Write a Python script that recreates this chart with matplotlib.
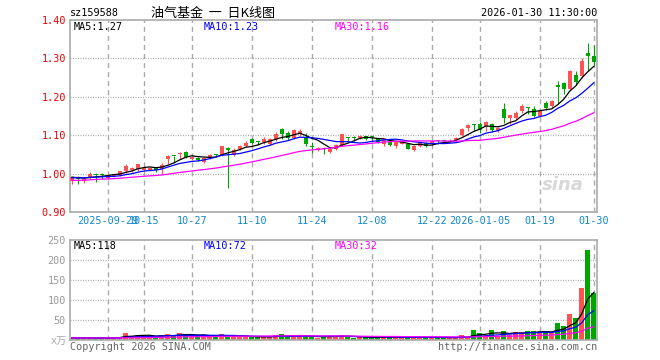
import numpy as np
import pandas as pd
import matplotlib
matplotlib.use("Agg")
import matplotlib.pyplot as plt
from matplotlib.transforms import blended_transform_factory


# trading days shown (Sina daily K chart, 159588)
holidays = ["2025-10-01", "2025-10-02", "2025-10-03", "2025-10-06", "2025-10-07",
            "2025-10-08", "2026-01-01", "2026-01-02"]
days = pd.bdate_range("2025-09-19", "2026-01-30")
days = days[~days.isin(pd.to_datetime(holidays))]

opens = [0.981, 0.990, 0.981, 0.990, 0.998, 0.998, 0.988, 0.993, 0.997, 1.006,
         1.009, 1.013, 1.009, 1.010, 1.015, 1.012, 1.038, 1.047, 1.052, 1.056,
         1.038, 1.041, 1.030, 1.041, 1.049, 1.049, 1.066, 1.049, 1.064, 1.073,
         1.090, 1.082, 1.081, 1.078, 1.089, 1.117, 1.106, 1.093, 1.102, 1.093,
         1.069, 1.061, 1.064, 1.055, 1.064, 1.075, 1.093, 1.093, 1.094, 1.097,
         1.096, 1.090, 1.077, 1.081, 1.071, 1.078, 1.078, 1.062, 1.071, 1.080,
         1.077, 1.086, 1.086, 1.083, 1.088, 1.100, 1.120, 1.128, 1.129, 1.124,
         1.129, 1.110, 1.169, 1.145, 1.145, 1.162, 1.172, 1.169, 1.150, 1.184,
         1.175, 1.232, 1.236, 1.220, 1.256, 1.253, 1.314, 1.306]
highs = [0.994, 0.994, 0.990, 1.003, 1.001, 1.002, 0.999, 1.000, 1.008, 1.026,
         1.018, 1.026, 1.020, 1.018, 1.017, 1.027, 1.049, 1.047, 1.056, 1.058,
         1.046, 1.043, 1.043, 1.052, 1.050, 1.073, 1.068, 1.066, 1.075, 1.084,
         1.092, 1.085, 1.095, 1.093, 1.108, 1.118, 1.111, 1.115, 1.115, 1.106,
         1.083, 1.069, 1.070, 1.066, 1.077, 1.102, 1.095, 1.097, 1.100, 1.099,
         1.098, 1.092, 1.090, 1.090, 1.084, 1.086, 1.080, 1.073, 1.082, 1.083,
         1.086, 1.087, 1.088, 1.091, 1.096, 1.118, 1.130, 1.129, 1.135, 1.137,
         1.132, 1.121, 1.184, 1.153, 1.162, 1.180, 1.174, 1.175, 1.165, 1.190,
         1.191, 1.241, 1.239, 1.270, 1.268, 1.300, 1.341, 1.336]
lows = [0.974, 0.974, 0.975, 0.987, 0.978, 0.985, 0.985, 0.990, 0.995, 1.002,
        1.005, 1.007, 1.006, 1.006, 1.003, 1.000, 1.024, 1.027, 1.038, 1.040,
        1.036, 1.032, 1.028, 1.038, 1.043, 1.047, 0.963, 1.045, 1.062, 1.070,
        1.077, 1.075, 1.077, 1.075, 1.086, 1.089, 1.087, 1.090, 1.099, 1.073,
        1.053, 1.059, 1.051, 1.053, 1.062, 1.073, 1.083, 1.084, 1.090, 1.088,
        1.083, 1.079, 1.073, 1.072, 1.067, 1.076, 1.063, 1.060, 1.069, 1.069,
        1.075, 1.077, 1.080, 1.081, 1.084, 1.098, 1.110, 1.111, 1.105, 1.110,
        1.108, 1.108, 1.132, 1.130, 1.140, 1.158, 1.155, 1.148, 1.147, 1.165,
        1.172, 1.180, 1.206, 1.217, 1.232, 1.250, 1.268, 1.280]
closes = [0.990, 0.985, 0.986, 0.999, 0.997, 0.997, 0.996, 0.998, 1.006, 1.019,
          1.015, 1.024, 1.015, 1.014, 1.009, 1.023, 1.047, 1.046, 1.054, 1.043,
          1.043, 1.035, 1.041, 1.049, 1.048, 1.071, 1.061, 1.061, 1.071, 1.080,
          1.080, 1.081, 1.091, 1.091, 1.104, 1.104, 1.093, 1.113, 1.111, 1.076,
          1.068, 1.067, 1.063, 1.064, 1.075, 1.102, 1.092, 1.092, 1.097, 1.091,
          1.095, 1.082, 1.088, 1.075, 1.082, 1.084, 1.065, 1.071, 1.080, 1.071,
          1.084, 1.085, 1.085, 1.085, 1.094, 1.117, 1.126, 1.127, 1.114, 1.135,
          1.114, 1.119, 1.145, 1.152, 1.158, 1.177, 1.171, 1.150, 1.163, 1.170,
          1.189, 1.225, 1.221, 1.268, 1.238, 1.292, 1.306, 1.291]
# volume in 万 (10k units)
volumes = [5, 8, 4, 4, 4, 7, 4, 7, 8, 18, 10, 12, 10, 9, 8, 12, 15, 9, 18, 14,
           12, 9, 11, 9, 8, 15, 10, 9, 8, 8, 8, 7, 8, 8, 12, 15, 10, 9, 10, 9,
           9, 6, 8, 10, 11, 12, 7, 5, 7, 7, 7, 7, 7, 7, 7, 7, 7, 7, 6, 6,
           6, 6, 6, 6, 6, 12, 7, 24, 17, 12, 25, 11, 22, 12, 19, 19, 22, 22, 21, 20,
           17, 42, 35, 65, 56, 129, 225, 118]

# closes / volumes before the window, only used to seed the moving averages
prior_closes = [0.972, 0.975, 0.970, 0.968, 0.973, 0.977, 0.980, 0.976, 0.974, 0.979,
                0.983, 0.981, 0.978, 0.982, 0.985, 0.983, 0.980, 0.984, 0.987, 0.985,
                0.982, 0.986, 0.989, 0.991, 0.988, 0.990, 0.993, 0.991, 0.989]
prior_volumes = [5, 6, 4, 5, 7, 5, 4, 6, 5, 5, 6, 4, 5, 5, 6, 5, 4, 5, 6, 5,
                 5, 4, 6, 5, 5, 6, 5, 4, 5]

date_ticks = {"2025-09-29": "2025-09-29", "2025-10-15": "10-15", "2025-10-27": "10-27",
              "2025-11-10": "11-10", "2025-11-24": "11-24", "2025-12-08": "12-08",
              "2025-12-22": "12-22", "2026-01-05": "2026-01-05", "2026-01-19": "01-19",
              "2026-01-30": "01-30"}

price_ticks = [0.90, 1.00, 1.10, 1.20, 1.30, 1.40]
vol_ticks = [50, 100, 150, 200, 250]

UP = "#ff5353"
DOWN = "#00a600"
GRID = "#aaaaaa"
MONO = "DejaVu Sans Mono"


def moving_average(prior, values, n):
    s = pd.Series(list(prior) + list(values))
    return s.rolling(n).mean().values[len(prior):]


def main():
    o = np.array(opens)
    h = np.array(highs)
    l = np.array(lows)
    c = np.array(closes)
    v = np.array(volumes)
    x = np.arange(len(c))
    tick_pos = [days.get_loc(pd.Timestamp(d)) for d in date_ticks]

    colors = np.where(c >= o, UP, DOWN)

    fig = plt.figure(figsize=(6.6, 3.6), dpi=100)
    ax = fig.add_axes([70 / 660, 1 - 212 / 360, 527 / 660, 192 / 360])
    axv = fig.add_axes([70 / 660, 1 - 340 / 360, 527 / 660, 100 / 360])

    for a in (ax, axv):
        a.set_xlim(-0.3, 87.55)
        for sp in a.spines.values():
            sp.set_color(GRID)
            sp.set_linewidth(1.2)
        a.set_xticks([])
        a.tick_params(axis="y", length=0, pad=3)
        for p in tick_pos:
            a.axvline(p, color=GRID, lw=1.0, dashes=(3.6, 2.9), zorder=0)

    # price panel
    ax.set_ylim(0.90, 1.40)
    for t in price_ticks[1:-1]:
        ax.axhline(t, color=GRID, lw=0.9, dashes=(0.8, 1.2), zorder=0)
    ax.set_yticks(price_ticks)
    ax.set_yticklabels([f"{t:.2f}" for t in price_ticks], color="#ee0000",
                       family=MONO, fontsize=7.3)

    ax.vlines(x, l, h, colors=colors, lw=0.8, zorder=2)
    body = np.maximum(np.abs(c - o), 0.0027)
    ax.bar(x, body, 0.7, bottom=np.minimum(o, c), color=colors, lw=0, zorder=3)

    ax.plot(x, moving_average(prior_closes, c, 5), color="black", lw=0.9, zorder=4)
    ax.plot(x, moving_average(prior_closes, c, 10), color="#0000ff", lw=0.9, zorder=4)
    ax.plot(x, moving_average(prior_closes, c, 30), color="#ff00ff", lw=0.9, zorder=4)

    ax.text(0.007, 0.965, "MA5:1.27", transform=ax.transAxes, color="black",
            family=MONO, fontsize=7.3, va="center")
    ax.text(0.254, 0.965, "MA10:1.23", transform=ax.transAxes, color="#0000ff",
            family=MONO, fontsize=7.3, va="center")
    ax.text(0.502, 0.965, "MA30:1.16", transform=ax.transAxes, color="#ff00ff",
            family=MONO, fontsize=7.3, va="center")
    ax.text(0.975, 0.14, "sina", transform=ax.transAxes, color="#d8d8d8",
            fontsize=13, fontweight="bold", style="italic", ha="right", va="center")

    trans = blended_transform_factory(ax.transData, ax.transAxes)
    for p, lab in zip(tick_pos, date_ticks.values()):
        ax.text(p, -0.047, lab, transform=trans, color="#1288d0", family=MONO,
                fontsize=7.3, ha="center", va="center")

    # volume panel
    axv.set_ylim(0, 250)
    for t in vol_ticks[:-1]:
        axv.axhline(t, color=GRID, lw=0.9, dashes=(0.8, 1.2), zorder=0)
    axv.set_yticks(vol_ticks)
    axv.set_yticklabels([str(t) for t in vol_ticks], color="#999999",
                        family=MONO, fontsize=7.3)
    axv.bar(x, v, 0.8, color=colors, lw=0, zorder=2)
    axv.plot(x, moving_average(prior_volumes, v, 5), color="black", lw=0.9, zorder=3)
    axv.plot(x, moving_average(prior_volumes, v, 10), color="#0000ff", lw=0.9, zorder=3)
    axv.plot(x, moving_average(prior_volumes, v, 30), color="#ff00ff", lw=0.9, zorder=3)

    axv.text(0.007, 0.94, "MA5:118", transform=axv.transAxes, color="black",
             family=MONO, fontsize=7.3, va="center")
    axv.text(0.254, 0.94, "MA10:72", transform=axv.transAxes, color="#0000ff",
             family=MONO, fontsize=7.3, va="center")
    axv.text(0.502, 0.94, "MA30:32", transform=axv.transAxes, color="#ff00ff",
             family=MONO, fontsize=7.3, va="center")

    # header and footer
    fig.text(70 / 660, 1 - 13 / 360, "sz159588", family=MONO, fontsize=7.3,
             va="center", ha="left")
    fig.text(213 / 660, 1 - 13 / 360, "油气基金  一  日K线图",
             family=["Noto Sans CJK SC", "DejaVu Sans"], fontsize=9.4,
             va="center", ha="center")
    fig.text(597 / 660, 1 - 13 / 360, "2026-01-30 11:30:00", family=MONO,
             fontsize=7.3, va="center", ha="right")
    fig.text(67 / 660, 1 - 341 / 360, "x万", family=["DejaVu Sans Mono", "Noto Sans CJK SC"],
             fontsize=7.3, color="#aaaaaa", va="center", ha="right")
    fig.text(70 / 660, 1 - 347 / 360, "Copyright 2026 SINA.COM", family=MONO,
             fontsize=7.3, color="#666666", va="center", ha="left")
    fig.text(597 / 660, 1 - 347 / 360, "http://finance.sina.com.cn", family=MONO,
             fontsize=7.3, color="#666666", va="center", ha="right")

    fig.savefig("out.png", dpi=100, facecolor="white")
    plt.close(fig)


if __name__ == "__main__":
    main()
